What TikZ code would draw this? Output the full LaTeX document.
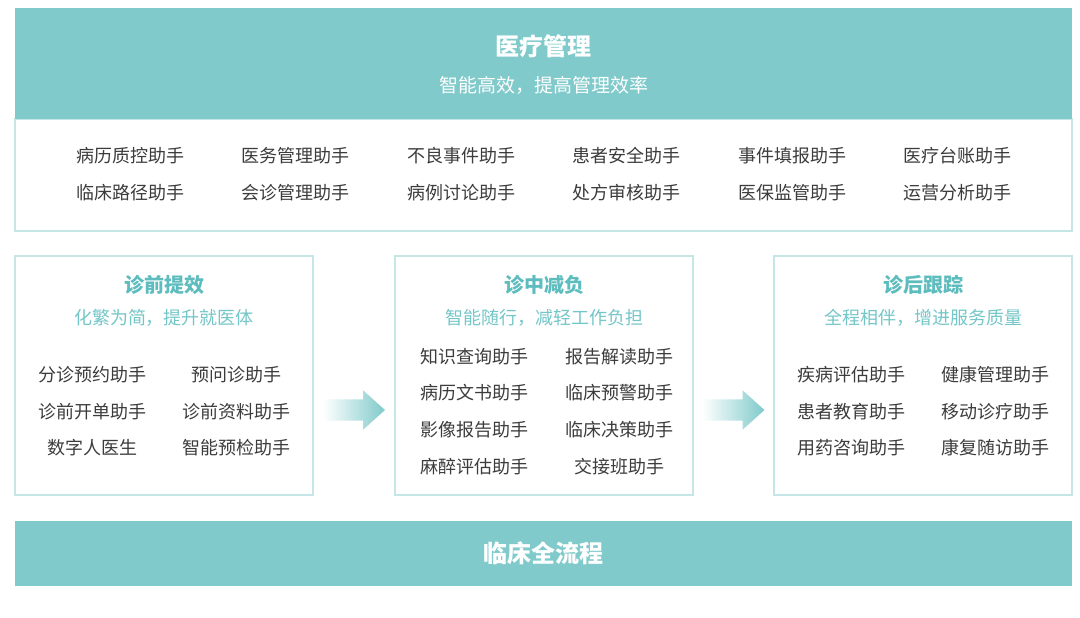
\documentclass[tikz,border=0pt]{standalone}
\usepackage{fontspec}
\setmainfont{Noto Sans CJK SC}
\usepackage{tikz}
\usetikzlibrary{positioning,shapes.arrows,calc}
\definecolor{medteal}{RGB}{128,202,203}
\definecolor{lineteal}{RGB}{196,230,230}
\definecolor{titleteal}{RGB}{92,188,190}
\definecolor{subteal}{RGB}{116,198,200}
\definecolor{itemgray}{RGB}{60,60,60}

\begin{document}
\begin{tikzpicture}[x=1pt,y=-1pt,
    band/.style={fill=medteal, inner sep=0pt, minimum width=1057},
    panel/.style={draw=lineteal, line width=1.5pt, fill=white, inner sep=0pt, minimum width=298, minimum height=239},
    item/.style={text=itemgray, inner sep=0pt, font=\fontsize{18}{18}\selectfont},
    ptitle/.style={text=titleteal, inner sep=0pt, font=\fontsize{20}{20}\selectfont\bfseries},
    psub/.style={text=subteal, inner sep=0pt, font=\fontsize{18}{18}\selectfont},
    bandtext/.style={text=white, inner sep=0pt},
    flowarrow/.style={single arrow, left color=white, right color=medteal, inner sep=0pt,
        minimum height=62, single arrow head extend=9, single arrow tip angle=84}]
    \useasboundingbox[fill=white] (0,0) rectangle (1080,618);

    \node[draw=lineteal, line width=1.5pt, inner sep=0pt, minimum width=1057, minimum height=112] (tools) at (543.5,175) {};
    \node[band, minimum height=111] (mgmt) at (543.5,63.5) {};
    \node[bandtext, font=\fontsize{24}{24}\selectfont\bfseries] (mgmtT) at (543.5,46) {医疗管理};
    \node[bandtext, font=\fontsize{19}{19}\selectfont] (mgmtS) at (543.5,85) {智能高效，提高管理效率};

    \foreach \t [count=\i] in {病历质控助手,医务管理助手,不良事件助手,患者安全助手,事件填报助手,医疗台账助手}
        \node[item] (ta\i) at ({130+165.5*(\i-1)},156) {\t};
    \foreach \t [count=\i] in {临床路径助手,会诊管理助手,病例讨论助手,处方审核助手,医保监管助手,运营分析助手}
        \node[item] (tb\i) at ({130+165.5*(\i-1)},193) {\t};

    \node[panel] (pre) at (164,375.5) {};
    \node[panel] (mid) at (544,375.5) {};
    \node[panel] (post) at (923,375.5) {};

    \node[ptitle] (preT) at (164,285) {诊前提效};
    \node[psub] (preS) at (164,318) {化繁为简，提升就医体};
    \node[item] (pre1) at (92,375) {分诊预约助手};
    \node[item] (pre2) at (236,375) {预问诊助手};
    \node[item] (pre3) at (92,411.5) {诊前开单助手};
    \node[item] (pre4) at (236,411.5) {诊前资料助手};
    \node[item] (pre5) at (92,448) {数字人医生};
    \node[item] (pre6) at (236,448) {智能预检助手};

    \node[ptitle] (midT) at (544,285) {诊中减负};
    \node[psub] (midS) at (544,318) {智能随行，减轻工作负担};
    \node[item] (mid1) at (474,356.5) {知识查询助手};
    \node[item] (mid2) at (619,356.5) {报告解读助手};
    \node[item] (mid3) at (474,393) {病历文书助手};
    \node[item] (mid4) at (619,393) {临床预警助手};
    \node[item] (mid5) at (474,430) {影像报告助手};
    \node[item] (mid6) at (619,430) {临床决策助手};
    \node[item] (mid7) at (474,466.5) {麻醉评估助手};
    \node[item] (mid8) at (619,466.5) {交接班助手};

    \node[ptitle] (postT) at (923,285) {诊后跟踪};
    \node[psub] (postS) at (923,318) {全程相伴，增进服务质量};
    \node[item] (post1) at (851,375) {疾病评估助手};
    \node[item] (post2) at (995,375) {健康管理助手};
    \node[item] (post3) at (851,411.5) {患者教育助手};
    \node[item] (post4) at (995,411.5) {移动诊疗助手};
    \node[item] (post5) at (851,448) {用药咨询助手};
    \node[item] (post6) at (995,448) {康复随访助手};

    \node[flowarrow] (go1) at ($(pre.east)!0.5!(mid.west)+(-6,34.5)$) {\rule{0pt}{21pt}};
    \node[flowarrow] (go2) at ($(mid.east)!0.5!(post.west)+(-6,34.5)$) {\rule{0pt}{21pt}};

    \node[band, minimum height=65] (flow) at (543.5,553.5) {};
    \node[bandtext, font=\fontsize{24}{24}\selectfont\bfseries] (flowT) at (543.5,553) {临床全流程};
\end{tikzpicture}
\end{document}
